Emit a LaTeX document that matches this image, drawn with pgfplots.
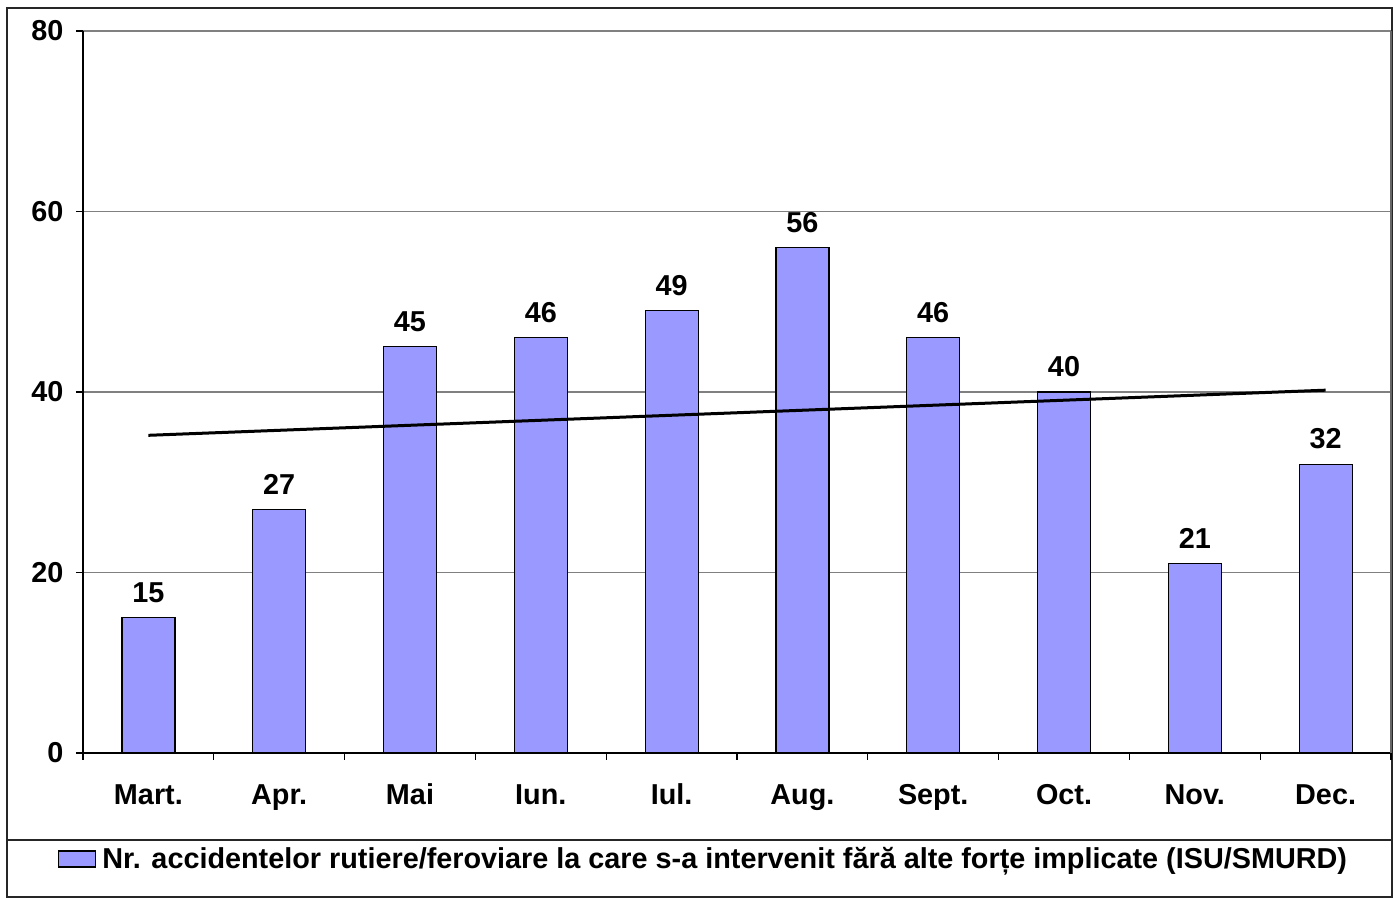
\documentclass[border=0pt]{standalone}
\usepackage{fontspec}
\setmainfont{Liberation Sans}
\usepackage{pgfplots}
\pgfplotsset{compat=1.18}
\definecolor{barblue}{HTML}{9999FF}
\newcommand{\bigf}{\bfseries\fontsize{28.8}{33}\selectfont}
\begin{document}
\begin{tikzpicture}[x=1pt,y=1pt]
\path[use as bounding box] (0,0) rectangle (1393,899);
\draw[line width=1.5pt,draw=black!85] (7,2) rectangle (1392,891);
\draw[line width=1.5pt,draw=black!85] (7,59) -- (1392,59);
\begin{axis}[
  at={(83pt,146pt)}, anchor=south west,
  width=1308pt, height=722pt, scale only axis,
  xmin=0.5, xmax=10.5, ymin=0, ymax=80,
  axis x line*=bottom, axis y line*=left,
  axis line style={line width=1.2pt, black},
  ytick={0,20,40,60,80},
  ymajorgrids, grid style={line width=1.2pt, black!50},
  xtick={1,...,10},
  xticklabels={Mart.,Apr.,Mai,Iun.,Iul.,Aug.,Sept.,Oct.,Nov.,Dec.},
  minor xtick={0.5,1.5,...,10.5},
  major x tick style={draw=none},
  minor x tick style={line width=1.2pt,black},
  y tick style={line width=1.2pt,black},
  tick align=outside,
  major tick length=7pt, minor tick length=7pt,
  tick label style={font=\bigf},
  /pgf/number format/assume math mode=true,
  xticklabel style={text height=20.7pt, text depth=6pt, yshift=-20pt},
  yticklabel style={xshift=-9pt},
  legend style={at={(axis description cs:-0.0191,-0.1468)}, anchor=west,
    draw=none, fill=none, font=\bigf, inner sep=0pt,
    /tikz/every even column/.append style={column sep=0pt}},
  legend cell align=left,
  clip=false,
]
\draw[line width=1.2pt, black!60] (axis cs:10.5,0) -- (axis cs:10.5,80);
\addplot[ybar, bar width=53pt, fill=barblue, draw=black, line width=1.2pt,
  nodes near coords, every node near coord/.append style={font=\bigf, black, yshift=11pt},
  legend image code/.code={\draw[fill=barblue,draw=black,line width=1.2pt] (0pt,-8pt) rectangle (37pt,8pt);}]
  coordinates {(1,15) (2,27) (3,45) (4,46) (5,49) (6,56) (7,46) (8,40) (9,21) (10,32)};
\addlegendentry{\hspace{4pt}Nr. accidentelor rutiere/feroviare la care s-a intervenit fără alte forțe implicate (ISU/SMURD)}
\addplot[black, line width=3pt, forget plot] coordinates {(1,35.2) (10,40.2)};
\end{axis}
\end{tikzpicture}
\end{document}
